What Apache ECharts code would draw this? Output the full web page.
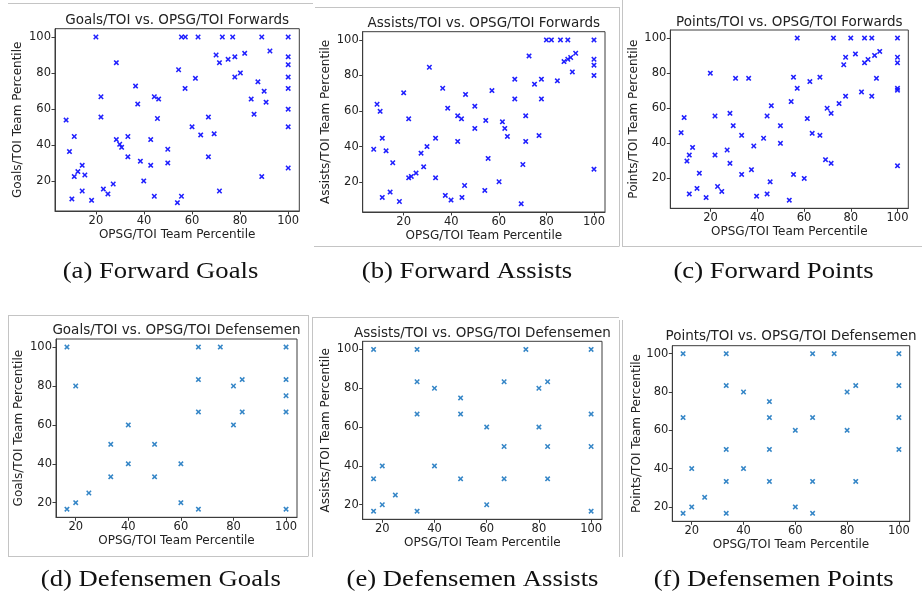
<!DOCTYPE html>
<html>
<head>
<meta charset="utf-8">
<script src="https://cdn.jsdelivr.net/npm/echarts@6/dist/echarts.min.js"></script>
<style>
  html, body { margin: 0; padding: 0; background: #fff; }
  #chart { width: 922px; height: 595px; }
</style>
</head>
<body>
<div id="chart"></div>
<script>
// Per-TOI team percentiles vs. OPSG/TOI team percentile, [opsg, stat]
const fwdGoals = [[20,100],[55.6,100],[57.2,100],[62.5,100],[72.6,100],[76.9,100],[89.0,100],[100,100],[92.4,92.2],[70.0,90.0],[81.9,90.9],[100,89.0],[77.8,89.0],[75.0,87.6],[71.4,85.7],[28.5,85.7],[100,84.6],[54.4,81.8],[80.1,80.0],[77.8,77.7],[100,77.7],[61.4,77.0],[87.4,75.1],[36.5,72.7],[57.1,71.4],[100,71.4],[90.0,69.9],[22.1,66.8],[44.3,66.8],[46.1,65.5],[84.6,65.5],[90.8,63.8],[37.4,62.7],[100,59.9],[85.8,57.1],[7.6,53.8],[22.1,55.5],[66.8,55.5],[45.6,54.7],[60.0,50.1],[100,50.1],[69.2,46.2],[63.6,45.6],[11.0,44.7],[33.3,44.7],[28.5,43.0],[42.8,43.0],[29.9,40.4],[30.7,38.7],[49.9,37.6],[9.0,36.3],[66.8,33.4],[33.3,33.4],[38.5,31.0],[49.9,30.0],[14.3,28.7],[42.8,28.7],[12.5,25.2],[15.4,23.3],[11.0,22.4],[89.0,22.4],[39.9,20.0],[27.2,18.3],[23.1,15.5],[14.3,14.4],[71.4,14.4],[25.0,12.8],[44.3,11.5],[55.6,11.5],[10.0,10.0],[18.2,9.2],[53.9,7.9],[100,27.2]];

const fwdAssists = [[80.0,100],[82.1,100],[85.9,100],[89.0,100],[100,100],[92.3,92.5],[72.7,91.0],[90.2,90.1],[89.0,89.1],[100,89.1],[87.4,87.8],[100,85.8],[30.8,84.6],[90.9,82.0],[100,80.0],[66.7,77.9],[77.9,77.9],[84.6,77.0],[75.0,75.1],[36.4,72.8],[57.1,71.5],[20.0,70.2],[46.0,69.3],[66.7,66.8],[77.9,66.8],[8.8,63.8],[49.9,62.7],[38.5,61.6],[10.1,59.8],[42.7,57.3],[71.3,57.3],[22.1,55.6],[44.3,55.6],[54.5,54.7],[61.5,53.9],[49.9,50.2],[62.5,50.2],[63.6,45.7],[76.9,46.2],[11.0,44.7],[33.4,44.7],[42.7,42.9],[71.3,42.9],[29.8,40.0],[7.4,38.5],[12.6,37.6],[27.3,36.3],[15.4,30.9],[70.1,29.9],[28.4,28.6],[55.5,33.3],[100,27.3],[25.2,25.1],[23.2,23.2],[22.1,22.4],[33.4,22.4],[60.1,20.2],[45.6,18.1],[54.1,15.3],[14.3,14.4],[37.5,12.5],[11.0,11.4],[44.5,11.4],[39.9,9.9],[18.2,9.1],[69.4,7.8]];

const fwdPoints = [[57.1,100],[72.6,100],[80.0,100],[85.9,100],[89.0,100],[100,100],[92.4,92.4],[82.0,91.0],[90.2,90.1],[77.8,89.1],[100,89.1],[87.4,87.8],[85.9,85.9],[100,85.9],[77.0,84.8],[19.9,80.0],[30.7,77.1],[36.3,77.1],[91.0,77.1],[55.5,77.7],[66.8,77.7],[62.5,75.2],[57.1,71.4],[100,71.4],[100,70.3],[84.6,69.3],[77.8,66.9],[89.0,66.9],[75.0,62.7],[54.5,63.8],[46.0,61.5],[69.9,60.0],[71.6,57.1],[28.3,57.1],[8.7,54.7],[21.9,55.6],[44.2,55.6],[61.4,54.1],[29.7,50.1],[49.9,50.1],[7.4,46.1],[63.5,45.7],[66.8,44.6],[33.3,44.6],[42.7,42.9],[49.9,40.0],[38.5,38.5],[12.3,37.7],[10.9,33.3],[21.9,33.3],[9.9,29.9],[27.1,36.2],[69.2,30.7],[71.6,28.6],[28.3,28.6],[100,27.2],[37.5,25.0],[15.2,23.0],[33.3,22.3],[55.5,22.3],[60.1,20.0],[45.5,18.1],[23.0,15.4],[14.2,14.3],[24.8,12.6],[10.9,11.2],[44.2,11.2],[39.7,9.9],[18.1,9.1],[53.7,7.6]];

const defGoals = [[16.67,100],[20,80],[16.67,16.67],[20,20],[25,25],[33.33,50],[33.33,33.33],[40,60],[40,40],[50,50],[50,33.33],[60,40],[60,20],[66.67,100],[66.67,83.33],[66.67,66.67],[66.67,16.67],[75,100],[80,80],[80,60],[83.33,83.33],[83.33,66.67],[100,100],[100,83.33],[100,75],[100,66.67],[100,16.67]];

const defAssists = [[16.67,100],[33.33,100],[75,100],[100,100],[33.33,83.33],[66.67,83.33],[83.33,83.33],[40,80],[80,80],[50,75],[33.33,66.67],[50,66.67],[100,66.67],[60,60],[80,60],[66.67,50],[83.33,50],[100,50],[20,40],[40,40],[16.67,33.33],[50,33.33],[66.67,33.33],[83.33,33.33],[25,25],[20,20],[60,20],[16.67,16.67],[33.33,16.67],[100,16.67]];

const defPoints = [[16.67,100],[33.33,100],[66.67,100],[75,100],[100,100],[33.33,83.33],[83.33,83.33],[100,83.33],[40,80],[80,80],[50,75],[16.67,66.67],[50,66.67],[66.67,66.67],[100,66.67],[60,60],[80,60],[33.33,50],[50,50],[100,50],[20,40],[40,40],[33.33,33.33],[50,33.33],[66.67,33.33],[83.33,33.33],[25,25],[20,20],[60,20],[16.67,16.67],[33.33,16.67],[66.67,16.67]];

const tickValues = [20, 40, 60, 80, 100];
const xName = 'OPSG/TOI Team Percentile';

const panels = [
  { data: fwdGoals,   title: 'Goals/TOI vs. OPSG/TOI Forwards',       yName: 'Goals/TOI Team Percentile',   caption: '(a) Forward Goals',      color: '#1414ff' },
  { data: fwdAssists, title: 'Assists/TOI vs. OPSG/TOI Forwards',     yName: 'Assists/TOI Team Percentile', caption: '(b) Forward Assists',    color: '#1414ff' },
  { data: fwdPoints,  title: 'Points/TOI vs. OPSG/TOI Forwards',      yName: 'Points/TOI Team Percentile',  caption: '(c) Forward Points',     color: '#1414ff' },
  { data: defGoals,   title: 'Goals/TOI vs. OPSG/TOI Defensemen',     yName: 'Goals/TOI Team Percentile',   caption: '(d) Defensemen Goals',   color: '#2a80c4' },
  { data: defAssists, title: 'Assists/TOI vs. OPSG/TOI Defensemen',   yName: 'Assists/TOI Team Percentile', caption: '(e) Defensemen Assists', color: '#2a80c4' },
  { data: defPoints,  title: 'Points/TOI vs. OPSG/TOI Defensemen',    yName: 'Points/TOI Team Percentile',  caption: '(f) Defensemen Points',  color: '#2a80c4' }
];

// plot boxes in pixels
const boxes = [
  { left: 55,    top: 28.7,  width: 244.3, height: 182.3, titleY: 20.5, nameGapY: 31 },
  { left: 362.7, top: 31.7,  width: 242.3, height: 180.3, titleY: 23.5, nameGapY: 31 },
  { left: 670.3, top: 30,    width: 238,   height: 178.3, titleY: 22,   nameGapY: 30 },
  { left: 56,    top: 339,   width: 241,   height: 178.3, titleY: 330.5, nameGapY: 31 },
  { left: 362.7, top: 341.3, width: 239.3, height: 178,   titleY: 333,  nameGapY: 31 },
  { left: 672.3, top: 345.7, width: 237.4, height: 175.6, titleY: 336.5, nameGapY: 29 }
];

const captionPos = [[160.5, 272], [467, 272], [773.5, 272], [160.8, 580], [472.5, 580], [773.7, 580]];

// padded data range, 5% each side
function range(vals) {
  const lo = Math.min(...vals), hi = Math.max(...vals);
  const pad = (hi - lo) * 0.05;
  return [lo - pad, hi + pad];
}

const crossPath = 'path://M0,2 L2,0 L5,3 L8,0 L10,2 L7,5 L10,8 L8,10 L5,7 L2,10 L0,8 L3,5 Z';
const frameColor = '#3c3c3c';
const textColor = '#222';

const grids = [], xAxes = [], yAxes = [], series = [], graphics = [];

panels.forEach((p, i) => {
  const b = boxes[i];
  grids.push({ left: b.left, top: b.top, width: b.width, height: b.height,
    show: true, borderColor: frameColor, borderWidth: 1, backgroundColor: 'transparent' });
  const xr = range(p.data.map(d => d[0]));
  const yr = range(p.data.map(d => d[1]));
  const common = {
    type: 'value', gridIndex: i,
    axisLine: { show: true, lineStyle: { color: frameColor, width: 1 } },
    axisTick: { show: true, length: 3.5, lineStyle: { color: frameColor, width: 1 }, customValues: tickValues },
    axisLabel: { customValues: tickValues, fontSize: 11.5, fontFamily: 'DejaVu Sans', color: textColor, margin: 4 },
    splitLine: { show: false },
    nameLocation: 'middle',
    nameTextStyle: { fontSize: 12, fontFamily: 'DejaVu Sans', color: textColor }
  };
  xAxes.push(Object.assign({}, common, { min: xr[0], max: xr[1], name: xName, nameGap: 18 }));
  yAxes.push(Object.assign({}, common, { min: yr[0], max: yr[1], name: p.yName, nameGap: b.nameGapY }));
  series.push({
    type: 'scatter', xAxisIndex: i, yAxisIndex: i, data: p.data,
    symbol: crossPath, symbolSize: 5.5,
    itemStyle: { color: p.color, opacity: 0.95 },
    silent: true
  });
  graphics.push({
    type: 'text', x: b.left + b.width / 2, y: b.titleY,
    style: { text: p.title, font: '13.5px "DejaVu Sans"', fill: textColor,
      align: 'center', verticalAlign: 'middle', textAlign: 'center', textVerticalAlign: 'middle' }
  });
  const c = captionPos[i];
  graphics.push({
    type: 'text', x: c[0], y: c[1], scaleX: 1.16,
    style: { text: p.caption, font: '23px "Liberation Serif"', fill: '#111',
      align: 'center', verticalAlign: 'middle', textAlign: 'center', textVerticalAlign: 'middle' }
  });
});

// light frame lines around the sub-figures
const borderLines = [
  [8, 3.5, 313, 3.5],
  [315, 7.5, 619, 7.5], [314, 246.5, 619, 246.5], [619.5, 7, 619.5, 246.5],
  [622.5, 0, 622.5, 246.5], [622, 246.5, 922, 246.5],
  [8, 315.5, 308, 315.5], [8.5, 315, 8.5, 556.5], [308.5, 315, 308.5, 556.5], [8, 556.5, 308, 556.5],
  [312, 317.5, 619, 317.5], [312.5, 317, 312.5, 557], [619.5, 320, 619.5, 557],
  [622.5, 320, 622.5, 557]
];
borderLines.forEach(l => graphics.push({
  type: 'line', shape: { x1: l[0], y1: l[1], x2: l[2], y2: l[3] },
  style: { stroke: '#c4c4c4', lineWidth: 1 }, silent: true
}));

const chart = echarts.init(document.getElementById('chart'), null, { renderer: 'canvas' });
chart.setOption({
  animation: false,
  backgroundColor: '#fff',
  grid: grids,
  xAxis: xAxes,
  yAxis: yAxes,
  series: series,
  graphic: graphics
});
</script>
</body>
</html>
